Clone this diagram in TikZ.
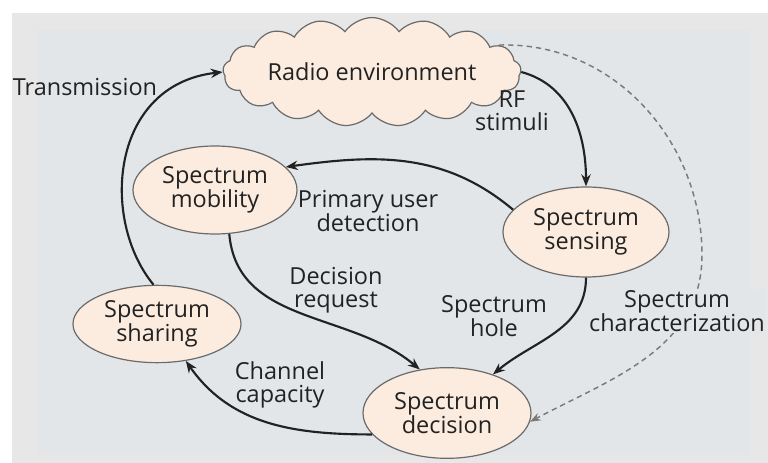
\documentclass[tikz,border=0pt]{standalone}
\usepackage{fontspec}
\setmainfont{Open Sans}
\usetikzlibrary{shapes.geometric,shapes.symbols,arrows.meta}
\definecolor{panelouter}{HTML}{E7E7E7}
\definecolor{panelinner}{HTML}{E2E6E9}
\definecolor{blobfill}{HTML}{FCECDF}
\definecolor{blobline}{HTML}{6A6A6A}
\definecolor{ink}{HTML}{222222}
\definecolor{dashink}{HTML}{7A7A7A}
\tikzset{
  txt/.style={text=ink, font=\fontsize{17.6}{17.6}\selectfont},
  blob/.style={ellipse, draw=blobline, line width=0.9pt, fill=blobfill,
    inner sep=0pt, align=center, txt},
  lbl/.style={align=center, txt},
  arr/.style={draw=ink, line width=1.6pt, -{Stealth[length=9pt,width=7pt]}},
  dasharr/.style={draw=dashink, line width=1.1pt, dash pattern=on 4pt off 3pt,
    -{Stealth[length=8pt,width=6pt]}}
}
\begin{document}
\begin{tikzpicture}[x=0.75pt,y=-0.75pt]
  \useasboundingbox (0,0) rectangle (768,463);
  % panel background
  \fill[white] (0,0) rectangle (768,463);
  \fill[panelouter] (12,13) rectangle (768,463);
  \fill[panelinner] (37,30) rectangle (750,455);

  % cloud
  \node[cloud, cloud puffs=17, cloud puff arc=110, aspect=3.6,
        draw=blobline, line width=0.9pt, fill=blobfill, inner sep=0pt,
        minimum width=198pt, minimum height=62pt, txt] (radio) at (372,72) {Radio environment};

  % function blocks
  \node[blob, minimum width=123pt, minimum height=66pt] (mob) at (215,190) {Spectrum\\mobility};
  \node[blob, minimum width=124.5pt, minimum height=67.5pt] (sens) at (586,232) {Spectrum\\sensing};
  \node[blob, minimum width=126pt, minimum height=58pt] (share) at (157,324) {Spectrum\\sharing};
  \node[blob, minimum width=126pt, minimum height=68pt] (dec) at (447,413) {Spectrum\\decision};

  % cycle connectors
  \draw[arr] (radio.east) to[out=-15,in=90] (sens.north);
  \draw[arr] (sens.163) to[out=140,in=8] (mob.18);
  \draw[arr] (mob.-72) to[out=-85,in=140] (dec.122);
  \draw[arr] (sens.-90) to[out=-90,in=40] (dec.40);
  \draw[arr] (dec.196) to[out=180,in=-55] (share.-52);
  \draw[arr] (share.95) .. controls (100,220) and (110,85) .. (radio.west);

  % characterization loop, passing behind its label
  \coordinate (charturn) at (702,255);
  \draw[dasharr] (radio.12) to[out=2,in=90] (charturn) to[out=-90,in=28] (dec.-6);

  % edge labels
  \node[lbl] (ltx) at (85,87) {Transmission};
  \node[lbl] (lrf) at (512,111) {RF\\stimuli};
  \node[lbl] (lpu) at (368,211) {Primary user\\detection};
  \node[lbl] (ldr) at (336,290) {Decision\\request};
  \node[lbl] (lsh) at (494,316) {Spectrum\\hole};
  \node[lbl, fill=panelinner, inner sep=1pt] (lsc) at (677,311) {Spectrum\\characterization};
  \node[lbl] (lcc) at (280,385) {Channel\\capacity};
\end{tikzpicture}
\end{document}
